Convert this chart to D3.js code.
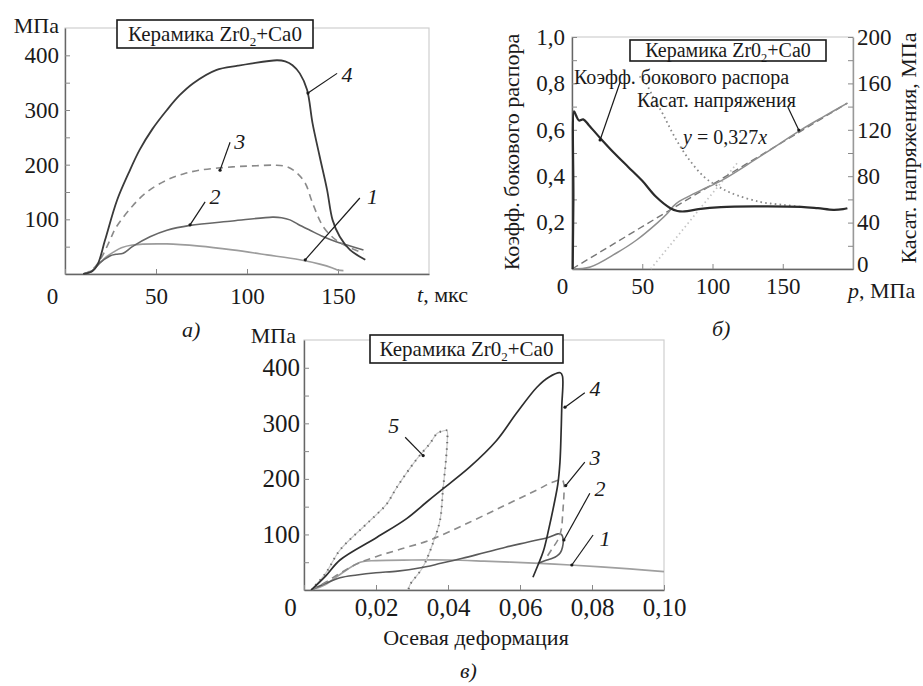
<!DOCTYPE html>
<html>
<head>
<meta charset="utf-8">
<script src="https://cdn.jsdelivr.net/npm/d3@7"></script>
<style>
body { margin: 0; background: #fff; }
svg text { font-family: 'Liberation Serif', 'DejaVu Serif', serif; }
</style>
</head>
<body>
<script>
// ---- data ----
// panel a: stress (MPa) vs time (mks), curves 1..4
var a1 = [[10,0],[15,6],[19,20],[23,32],[26.6,40],[31,48],[37,53],[56,55],[74,51],[92,44],[111,35],[129,26],[140,18],[147,11],[150,7],[153,6]];
var a2 = [[10,0],[15,6],[19,20],[24.7,33],[28,36],[32,38],[37,50],[46.7,68],[56,80],[68.7,89],[92,97],[114,104],[119,103],[123.6,99],[128,91],[134.6,80],[142,68],[149,59],[155,53],[164,44]];
var a3 = [[10,0],[15,8],[20,30],[24.7,62],[28,85],[37,124],[45,150],[56,172],[65,183],[74,190],[92,196],[105,198],[116,199],[122,196],[127,186],[132,166],[136,130],[142,86],[149,62],[156.6,48],[164,38]];
var a4 = [[10,0],[15,5],[18,18],[22,62],[28.6,135],[35,185],[41,227],[48,265],[56,300],[63,327],[70.5,349],[83,373],[95,381],[102,385],[116.5,391],[121,389],[125,382],[129,367],[133,337],[136,276],[140,214],[144,154],[147,99],[151,68],[156.6,44],[165,26]];
var aYTicks = [50,100,150,200,250,300,350,400];
var aXTicks = [0,50,100,150];

// panel b: x = p (MPa)
var bCoef = [[0.5,0],[1,0.3],[1.5,0.68],[3,0.66],[5,0.64],[8,0.645],[12,0.62],[20,0.565],[30,0.5],[40,0.44],[50,0.38],[60,0.31],[70,0.262],[75,0.25],[80,0.248],[90,0.258],[106,0.267],[130,0.27],[163,0.268],[175,0.262],[186,0.255],[193,0.258],[196,0.262]];
var bCoefDots = [[48,0.83],[51,0.815],[58,0.74],[65,0.664],[73,0.57],[82,0.483],[94,0.397],[103,0.36],[113,0.328],[134,0.289],[151,0.276],[163,0.268]];
var bTau = [[0,0],[13,1.7],[32,14],[46,25],[61,40],[68,48],[72,54],[76,58],[82,62],[92,68],[106,76],[130,94],[163,120],[180,132],[196,143]];
var bTauFit = [[0,0],[196,143]];
var bTauLate = [[56,0],[118,92]];
var bLeftTicks = [0.1,0.2,0.3,0.4,0.5,0.6,0.7,0.8,0.9,1.0];
var bRightTicks = [0,20,40,60,80,100,120,140,160,180,200];
var bXTicks = [0,50,100,150];

// panel c: stress (MPa) vs axial strain, curves 1..5
var c1 = [[0.002,0],[0.006,10],[0.01,28],[0.0156,50],[0.02,53],[0.03,54],[0.04,54],[0.05,52],[0.0655,48],[0.074,45],[0.0905,38],[0.1,33]];
var c2 = [[0.002,0],[0.006,12],[0.01,22],[0.0147,27],[0.02,31],[0.026,34],[0.032,39.5],[0.038,48],[0.044,57],[0.05,67],[0.056,77],[0.062,86],[0.068,95],[0.0705,101],[0.0715,100],[0.072,90],[0.0718,77],[0.0712,67],[0.0702,61],[0.069,57],[0.0675,54],[0.065,48]];
var c3 = [[0.002,0],[0.006,14],[0.01,30],[0.0147,47],[0.02,60],[0.026,72],[0.035,90],[0.046,122],[0.056,153],[0.0647,180],[0.069,194],[0.0717,198],[0.0722,190],[0.0722,170],[0.072,150],[0.0718,131],[0.0715,110],[0.0705,90],[0.069,75],[0.0675,60]];
var c4 = [[0.002,0],[0.006,25],[0.01,54],[0.0203,95],[0.0286,129],[0.034,158],[0.0378,178],[0.046,221],[0.0535,269],[0.059,318],[0.0647,365],[0.068,383],[0.0712,391],[0.0718,385],[0.0716,330],[0.0714,280],[0.0711,230],[0.0705,190],[0.0697,162],[0.068,110],[0.0665,70],[0.065,45],[0.0636,23]];
var c5 = [[0.002,0],[0.006,30],[0.01,72],[0.0164,113],[0.02,135],[0.023,155],[0.0258,185],[0.031,233],[0.035,264],[0.037,282],[0.0385,286],[0.0397,287],[0.0398,270],[0.0395,239],[0.0386,180],[0.0378,126],[0.0358,84],[0.033,41],[0.0294,9],[0.029,0]];
var cYTicks = [50,100,150,200,250,300,350,400];
var cXTicks = [0,0.02,0.04,0.06,0.08,0.10];

var ru = d3.formatLocale({decimal: ",", thousands: " ", grouping: [3], currency: ["", ""]});

var svg = d3.select("body").append("svg").attr("width", 923).attr("height", 686);
svg.append("rect").attr("width", 923).attr("height", 686).attr("fill", "#fff");

function txt(g, x, y, s, size, anchor, italic){
	return g.append("text").attr("x", x).attr("y", y)
		.style("font-size", size + "px")
		.attr("text-anchor", anchor || "start")
		.style("font-style", italic ? "italic" : "normal")
		.attr("fill", "#1a1a1a").text(s);
}

function titleBox(g, x, y, w, h, size){
	g.append("rect").attr("x", x).attr("y", y).attr("width", w).attr("height", h)
		.attr("fill", "#fff").attr("stroke", "#1a1a1a").attr("stroke-width", 1.6);
	var t = g.append("text").attr("x", x + w/2).attr("y", y + h/2 + size*0.33)
		.style("font-size", size + "px").attr("text-anchor", "middle").attr("fill", "#1a1a1a");
	t.append("tspan").text("Керамика Zr0");
	t.append("tspan").style("font-size", (size*0.62) + "px").attr("dy", size*0.22).text("2");
	t.append("tspan").attr("dy", -size*0.22).text("+Ca0");
}

function styleAxis(g, size){
	g.attr("font-family", null);
	g.selectAll("text").style("font-size", size + "px").attr("fill", "#1a1a1a");
	g.select(".domain").attr("stroke", "#666").attr("stroke-width", 1.4);
	g.selectAll(".tick line").attr("stroke", "#888").attr("stroke-width", 1);
}

function curve(g, data, x, y, color, width, dash){
	var line = d3.line().x(function(d){ return x(d[0]); }).y(function(d){ return y(d[1]); })
		.curve(d3.curveCatmullRom.alpha(0.5));
	var p = g.append("path").attr("d", line(data)).attr("fill", "none")
		.attr("stroke", color).attr("stroke-width", width)
		.attr("stroke-linejoin", "round");
	if (dash) p.attr("stroke-dasharray", dash);
	return p;
}

// pointer line from a label to a curve, small dot at the curve end
function pointer(g, x, y, p){
	g.append("line").attr("x1", x(p[0])).attr("y1", y(p[1])).attr("x2", x(p[2])).attr("y2", y(p[3]))
		.attr("stroke", "#1a1a1a").attr("stroke-width", 1.2);
	g.append("circle").attr("cx", x(p[2])).attr("cy", y(p[3])).attr("r", 1.6).attr("fill", "#1a1a1a");
}

// ================= panel a =================
var gA = svg.append("g");
var xA = d3.scaleLinear().domain([0, 200]).range([65, 429]);
var yA = d3.scaleLinear().domain([0, 450]).range([274, 28]);

gA.append("rect").attr("x", 65).attr("y", 28).attr("width", 364).attr("height", 246)
	.attr("fill", "none").attr("stroke", "#cfcfcf").attr("stroke-width", 1.2);

var ayAx = gA.append("g").attr("transform", "translate(65,0)")
	.call(d3.axisLeft(yA).tickValues(aYTicks).tickSize(-5).tickSizeOuter(0).tickPadding(6)
		.tickFormat(function(d){ return d % 100 === 0 ? d : ""; }));
styleAxis(ayAx, 23);
var axAx = gA.append("g").attr("transform", "translate(0,274)")
	.call(d3.axisBottom(xA).tickValues(aXTicks).tickSize(-5).tickSizeOuter(0).tickPadding(14));
styleAxis(axAx, 23);
axAx.selectAll(".tick text").filter(function(d){ return d === 0; }).attr("dx", -13);

curve(gA, a1, xA, yA, "#9c9c9c", 1.7);
curve(gA, a2, xA, yA, "#666", 1.6);
curve(gA, a3, xA, yA, "#8a8a8a", 1.6, "7,5");
curve(gA, a4, xA, yA, "#3a3a3a", 1.8);

titleBox(gA, 117, 20, 196, 28, 21);
txt(gA, 59, 33, "МПа", 22, "end");
var ta = txt(gA, 417, 302, "", 22);
ta.append("tspan").style("font-style", "italic").text("t");
ta.append("tspan").text(", мкс");
txt(gA, 182, 337, "а)", 22, "start", true);

pointer(gA, xA, yA, [149.5, 367, 133.5, 331]);
pointer(gA, xA, yA, [90.7, 241, 85.2, 190]);
pointer(gA, xA, yA, [77, 132, 68.7, 90]);
pointer(gA, xA, yA, [162, 139, 132, 26]);
txt(gA, xA(155), yA(351), "4", 22, "middle", true);
txt(gA, xA(96), yA(228), "3", 22, "middle", true);
txt(gA, xA(82.4), yA(128), "2", 22, "middle", true);
txt(gA, xA(169), yA(128), "1", 22, "middle", true);

// ================= panel b =================
var gB = svg.append("g");
var xB = d3.scaleLinear().domain([0, 200]).range([572, 853]);
var yBL = d3.scaleLinear().domain([0, 1]).range([269, 37]);
var yBR = d3.scaleLinear().domain([0, 200]).range([269, 37]);

gB.append("rect").attr("x", 572).attr("y", 37).attr("width", 281).attr("height", 232)
	.attr("fill", "none").attr("stroke", "#cfcfcf").attr("stroke-width", 1.2);

var bl = gB.append("g").attr("transform", "translate(572,0)")
	.call(d3.axisLeft(yBL).tickValues(bLeftTicks).tickSize(-5).tickSizeOuter(0).tickPadding(7)
		.tickFormat(function(d){ return Math.round(d*10) % 2 === 0 ? ru.format(".1f")(d) : ""; }));
styleAxis(bl, 23);
var br = gB.append("g").attr("transform", "translate(853,0)")
	.call(d3.axisRight(yBR).tickValues(bRightTicks).tickSize(-5).tickSizeOuter(0).tickPadding(4)
		.tickFormat(function(d){ return d % 40 === 0 ? d : ""; }));
styleAxis(br, 23);
br.select(".domain").attr("stroke", "#999");
br.selectAll(".tick text").filter(function(d){ return d === 0; }).attr("dy", "0.1em");
var bx = gB.append("g").attr("transform", "translate(0,269)")
	.call(d3.axisBottom(xB).tickValues(bXTicks).tickSize(-5).tickSizeOuter(0).tickPadding(9));
styleAxis(bx, 23);
bx.selectAll(".tick text").filter(function(d){ return d === 0; }).attr("dx", -10);

curve(gB, bTauLate, xB, yBR, "#c4c4c4", 1.7, "1.5,3");
curve(gB, bTauFit, xB, yBR, "#777", 1.4, "7,4");
curve(gB, bTau, xB, yBR, "#8e8e8e", 1.5);
curve(gB, bCoefDots, xB, yBL, "#8a8a8a", 1.8, "1.6,3.2");
curve(gB, bCoef, xB, yBL, "#2b2b2b", 2.2);

titleBox(gB, 630, 40, 196, 21, 20);
txt(gB, 574, 84, "Коэфф. бокового распора", 20);
txt(gB, 637, 107, "Касат. напряжения", 20);
var fit = txt(gB, 683, 144, "", 20);
fit.append("tspan").style("font-style", "italic").text("y");
fit.append("tspan").text(" = 0,327");
fit.append("tspan").style("font-style", "italic").text("x");
pointer(gB, xB, yBL, [34.3, 0.806, 20, 0.556]);
pointer(gB, xB, yBR, [153.6, 139.7, 161.4, 119.8]);

gB.append("text").attr("transform", "translate(519,152) rotate(-90)")
	.style("font-size", "22px").attr("text-anchor", "middle").attr("fill", "#1a1a1a")
	.text("Коэфф. бокового распора");
gB.append("text").attr("transform", "translate(916,148) rotate(-90)")
	.style("font-size", "22px").attr("text-anchor", "middle").attr("fill", "#1a1a1a")
	.text("Касат. напряжения, МПа");
var pb = txt(gB, 848, 298, "", 22);
pb.append("tspan").style("font-style", "italic").text("p");
pb.append("tspan").text(", МПа");
txt(gB, 712, 336, "б)", 22, "start", true);

// ================= panel c =================
var gC = svg.append("g");
var xC = d3.scaleLinear().domain([0, 0.1]).range([304, 664]);
var yC = d3.scaleLinear().domain([0, 450]).range([590, 340]);

gC.append("rect").attr("x", 304).attr("y", 340).attr("width", 360).attr("height", 250)
	.attr("fill", "none").attr("stroke", "#cfcfcf").attr("stroke-width", 1.2);

var cy = gC.append("g").attr("transform", "translate(304,0)")
	.call(d3.axisLeft(yC).tickValues(cYTicks).tickSize(-5).tickSizeOuter(0).tickPadding(4)
		.tickFormat(function(d){ return d % 100 === 0 ? d : ""; }));
styleAxis(cy, 25);
var cx = gC.append("g").attr("transform", "translate(0,590)")
	.call(d3.axisBottom(xC).tickValues(cXTicks).tickSize(-5).tickSizeOuter(0).tickPadding(8)
		.tickFormat(function(d){ return d === 0 ? "0" : ru.format(".2f")(d); }));
styleAxis(cx, 25);
cx.selectAll(".tick text").filter(function(d){ return d === 0; }).attr("dx", -14);

curve(gC, c1, xC, yC, "#a0a0a0", 1.7);
curve(gC, c5, xC, yC, "#c8c8c8", 1.2);
curve(gC, c5, xC, yC, "#6a6a6a", 2, "1.4,5");
curve(gC, c2, xC, yC, "#5a5a5a", 1.6);
curve(gC, c3, xC, yC, "#8a8a8a", 1.6, "7,5");
curve(gC, c4, xC, yC, "#2e2e2e", 1.7);

titleBox(gC, 370, 335, 193, 28, 21);
txt(gC, 296, 343, "МПа", 22, "end");
txt(gC, 476, 645, "Осевая деформация", 22, "middle");
txt(gC, 460, 678, "в)", 22, "start", true);

pointer(gC, xC, yC, [0.0281, 275, 0.0331, 242]);
pointer(gC, xC, yC, [0.078, 355, 0.0725, 329]);
pointer(gC, xC, yC, [0.078, 230, 0.0727, 188]);
pointer(gC, xC, yC, [0.0794, 174, 0.0722, 90]);
pointer(gC, xC, yC, [0.0803, 99, 0.0744, 45]);
txt(gC, xC(0.0249), yC(282), "5", 22, "middle", true);
txt(gC, xC(0.0808), yC(350), "4", 22, "middle", true);
txt(gC, xC(0.0808), yC(225), "3", 22, "middle", true);
txt(gC, xC(0.0822), yC(170), "2", 22, "middle", true);
txt(gC, xC(0.0836), yC(80), "1", 22, "middle", true);
</script>
</body>
</html>
